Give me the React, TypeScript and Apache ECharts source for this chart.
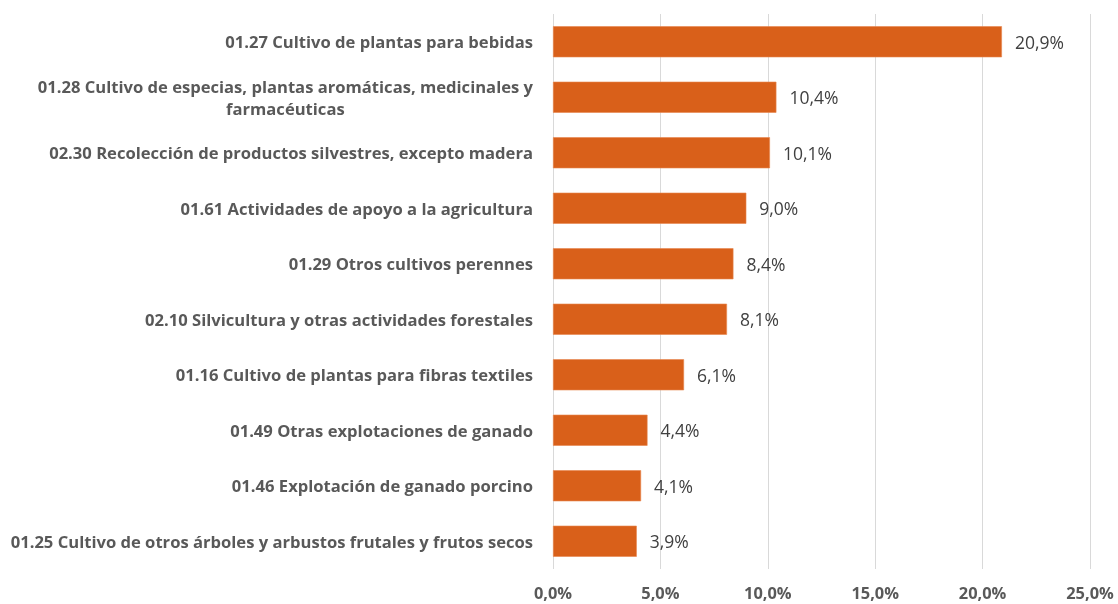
import React, { useEffect, useRef } from "react";
import * as echarts from "echarts";

const categories: string[] = [
  "01.27 Cultivo de plantas para bebidas",
  "01.28 Cultivo de especias, plantas aromáticas, medicinales y\nfarmacéuticas",
  "02.30 Recolección de productos silvestres, excepto madera",
  "01.61 Actividades de apoyo a la agricultura",
  "01.29 Otros cultivos perennes",
  "02.10 Silvicultura y otras actividades forestales",
  "01.16 Cultivo de plantas para fibras textiles",
  "01.49 Otras explotaciones de ganado",
  "01.46 Explotación de ganado porcino",
  "01.25 Cultivo de otros árboles y arbustos frutales y frutos secos",
];

const values: number[] = [20.9, 10.4, 10.1, 9.0, 8.4, 8.1, 6.1, 4.4, 4.1, 3.9];

const xTicks: number[] = [0, 5, 10, 15, 20, 25];

const fmt = (v: number) => v.toFixed(1).replace(".", ",") + "%";

export default function App() {
  const ref = useRef<HTMLDivElement>(null);
  useEffect(() => {
    if (!ref.current) return;
    const chart = echarts.init(ref.current, null, { renderer: "svg" });
    const font = "'Open Sans', sans-serif";
    chart.setOption({
      animation: false,
      grid: { left: 553, right: 28, top: 14, bottom: 35, containLabel: false },
      xAxis: {
        type: "value",
        min: xTicks[0],
        max: xTicks[xTicks.length - 1],
        interval: 5,
        axisLine: { show: false },
        axisTick: { show: false },
        splitLine: { show: true, lineStyle: { color: "#d9d9d9", width: 1 } },
        axisLabel: {
          formatter: (v: number) => fmt(v),
          color: "#595959",
          fontWeight: "bold",
          fontSize: 16.4,
          lineHeight: 16,
          fontFamily: font,
          margin: 15,
        },
      },
      yAxis: {
        type: "category",
        data: categories.slice().reverse(),
        axisLine: { show: false },
        axisTick: { show: false },
        splitLine: { show: false },
        axisLabel: {
          color: "#595959",
          fontWeight: "bold",
          fontSize: 16.6,
          fontFamily: font,
          margin: 20,
          align: "right",
          lineHeight: 22,
          formatter: (v: string) =>
            v.indexOf("\n") >= 0
              ? v
                  .split("\n")
                  .map((l) => "{c|" + l + "}")
                  .join("\n")
              : v,
          rich: {
            c: {
              align: "center",
              color: "#595959",
              fontWeight: "bold",
              fontSize: 16.6,
              fontFamily: font,
              lineHeight: 22,
            },
          },
        },
      },
      series: [
        {
          type: "bar",
          data: values.slice().reverse(),
          barCategoryGap: "44%",
          itemStyle: { color: "#D9601A", borderColor: "#E8874F", borderWidth: 0.6 },
          label: {
            show: true,
            position: "right",
            distance: 13,
            formatter: (p: any) => fmt(p.value),
            color: "#404040",
            fontSize: 17.5,
            fontFamily: font,
          },
        },
      ],
    });
    return () => chart.dispose();
  }, []);
  return (
    <div
      ref={ref}
      style={{ position: "fixed", left: 0, top: 0, width: 1118, height: 604 }}
    />
  );
}
